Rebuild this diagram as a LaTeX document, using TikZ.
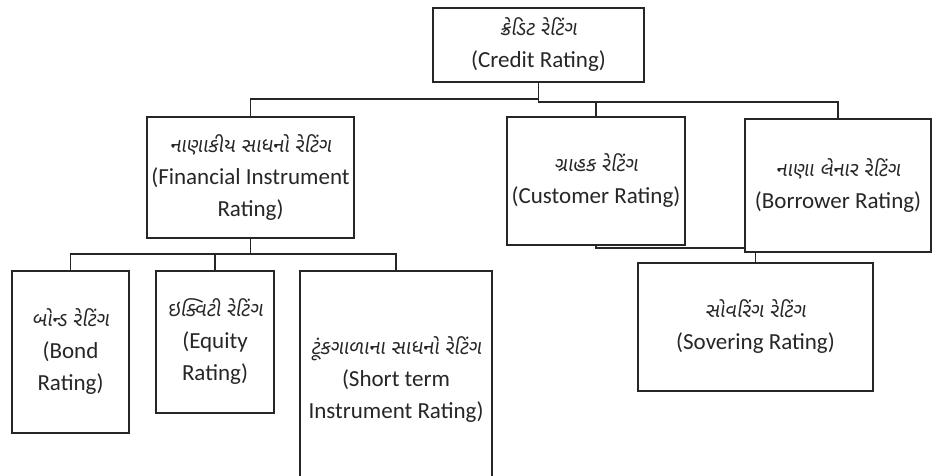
\documentclass[tikz,border=0pt]{standalone}
\usepackage{fontspec}
\setmainfont{Carlito}
\newfontfamily\gujfont[Script=Gujarati,FakeSlant=0.15]{Noto Sans Gujarati UI}
\newcommand\gj[1]{{\gujfont\fontsize{20}{32}\selectfont #1}}
\usetikzlibrary{backgrounds}
\begin{document}
\begin{tikzpicture}[x=1pt,y=-1pt,
  box/.style={draw=black!85, line width=1.5pt, fill=white, align=center, inner sep=0pt,
    font=\fontsize{23}{32}\selectfont, text=black!85},
  link/.style={draw=black!85, line width=1.5pt}]
\useasboundingbox (0,0) rectangle (936,475);
\node[box, minimum width=211pt, minimum height=74pt] (credit) at (538.5,45) {\gj{ક્રેડિટ રેટિંગ}\\(Credit Rating)};
\node[box, minimum width=207pt, minimum height=121pt] (fin) at (250.5,177.5) {\gj{નાણાકીય સાધનો રેટિંગ}\\(Financial Instrument\\Rating)};
\node[box, minimum width=178pt, minimum height=128pt] (cust) at (596,181) {\gj{ગ્રાહક રેટિંગ}\\(Customer Rating)};
\node[box, minimum width=186pt, minimum height=133pt] (borr) at (838,185.5) {\gj{નાણા લેનાર રેટિંગ}\\(Borrower Rating)};
\node[box, minimum width=117pt, minimum height=162pt] (bond) at (70.5,352) {\gj{બોન્ડ રેટિંગ}\\(Bond\\Rating)};
\node[box, minimum width=118pt, minimum height=142pt] (equity) at (215,342) {\gj{ઇક્વિટી રેટિંગ}\\(Equity\\Rating)};
\node[box, minimum width=192pt, minimum height=218pt] (short) at (396,380) {\gj{ટૂંકગાળાના સાધનો રેટિંગ}\\(Short term\\Instrument Rating)};
\node[box, minimum width=235pt, minimum height=128pt] (sov) at (755.5,327) {\gj{સોવરિંગ રેટિંગ}\\(Sovering Rating)};
\coordinate (bfin) at (400,99);
\coordinate (bright) at (700,102);
\coordinate (bkid) at (200,254);
\coordinate (bsov) at (700,248);
\begin{pgfonlayer}{background}
\draw[link] (credit.south) |- (bfin) -| (fin.north);
\draw[link] (credit.south) |- (bright) -| (cust.north);
\draw[link] (credit.south) |- (bright) -| (borr.north);
\draw[link] (fin.south) |- (bkid) -| (bond.north);
\draw[link] (fin.south) |- (bkid) -| (equity.north);
\draw[link] (fin.south) |- (bkid) -| (short.north);
\draw[link] (cust.center) |- (bsov) -| (sov.north);
\end{pgfonlayer}
\end{tikzpicture}
\end{document}
